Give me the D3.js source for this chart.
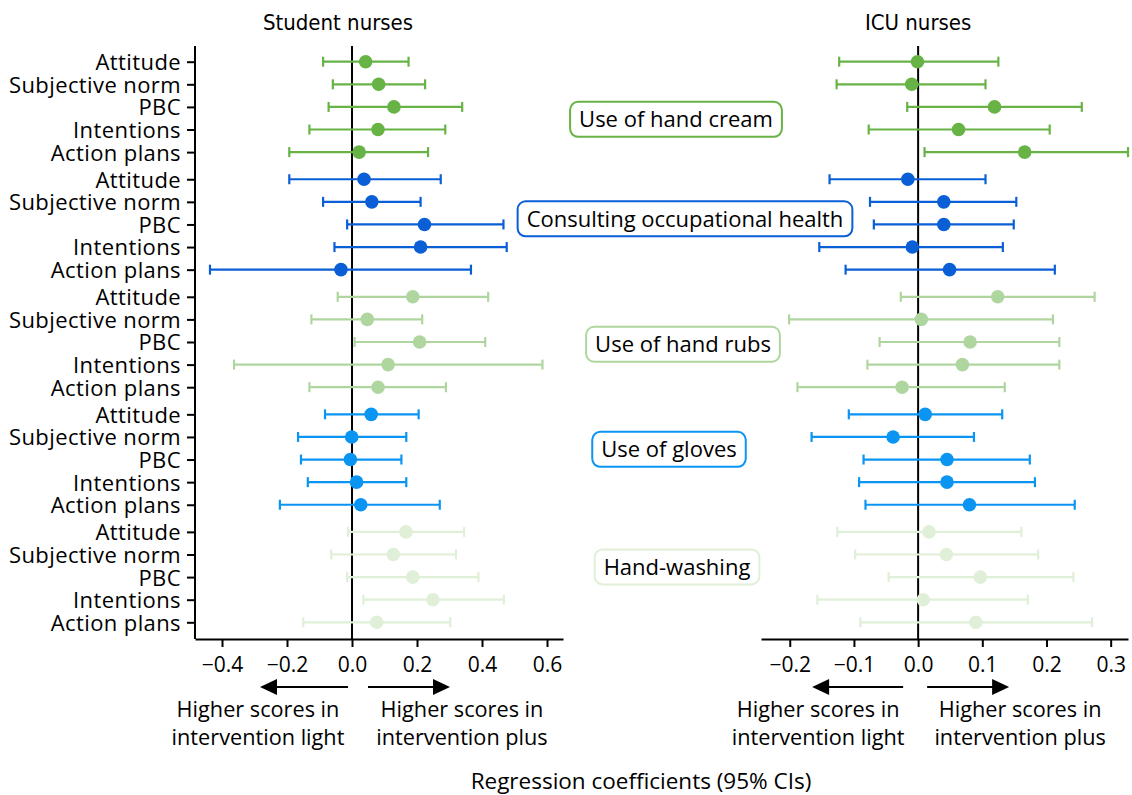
<!DOCTYPE html>
<html>
<head>
<meta charset="utf-8">
<script src="https://cdn.jsdelivr.net/npm/d3@7"></script>
<style>
  html, body { margin: 0; padding: 0; background: #ffffff; }
  svg { display: block; font-family: 'Open Sans', 'Noto Sans', sans-serif; }
  .narrow { font-family: 'Liberation Sans Narrow', 'DejaVu Sans Condensed', 'Open Sans', sans-serif; }
</style>
</head>
<body>
<div id="chart"></div>
<script>
// behaviours (groups) and the five constructs in each
const groups = ['Use of hand cream', 'Consulting occupational health', 'Use of hand rubs', 'Use of gloves', 'Hand-washing'];
const constructs = ['Attitude', 'Subjective norm', 'PBC', 'Intentions', 'Action plans'];
const groupColors = ['#67b346', '#0a5fd6', '#b0d6a0', '#0a95f3', '#e0f0d8'];

// Student nurses: estimate, lower CI, upper CI (rows grouped by behaviour)
const studentEst = [0.042, 0.082, 0.129, 0.080, 0.022,  0.037, 0.061, 0.223, 0.211, -0.034,  0.187, 0.047, 0.208, 0.111, 0.080,  0.059, -0.001, -0.005, 0.014, 0.027,  0.166, 0.127, 0.187, 0.249, 0.076];
const studentLo = [-0.089, -0.059, -0.072, -0.131, -0.193,  -0.193, -0.089, -0.015, -0.054, -0.437,  -0.044, -0.125, 0.008, -0.363, -0.131,  -0.083, -0.166, -0.157, -0.136, -0.222,  -0.012, -0.064, -0.015, 0.035, -0.150];
const studentHi = [0.174, 0.225, 0.339, 0.287, 0.234,  0.273, 0.211, 0.466, 0.476, 0.366,  0.419, 0.216, 0.410, 0.586, 0.289,  0.205, 0.167, 0.152, 0.167, 0.270,  0.345, 0.320, 0.389, 0.467, 0.302];

// ICU nurses
const icuEst = [-0.001, -0.010, 0.119, 0.063, 0.166,  -0.016, 0.040, 0.040, -0.009, 0.049,  0.124, 0.005, 0.081, 0.069, -0.025,  0.011, -0.039, 0.045, 0.045, 0.080,  0.017, 0.044, 0.097, 0.008, 0.090];
const icuLo = [-0.123, -0.127, -0.017, -0.077, 0.010,  -0.138, -0.075, -0.069, -0.154, -0.113,  -0.027, -0.201, -0.060, -0.079, -0.188,  -0.108, -0.166, -0.085, -0.092, -0.082,  -0.126, -0.098, -0.046, -0.157, -0.090];
const icuHi = [0.125, 0.105, 0.255, 0.205, 0.327,  0.105, 0.153, 0.149, 0.132, 0.213,  0.275, 0.210, 0.220, 0.220, 0.135,  0.131, 0.087, 0.174, 0.182, 0.244,  0.161, 0.187, 0.242, 0.171, 0.271];

const studentTicks = [-0.4, -0.2, 0, 0.2, 0.4, 0.6];
const icuTicks = [-0.2, -0.1, 0, 0.1, 0.2, 0.3];

const W = 1132, H = 795;
const groupGap = 0.2; // extra space between behaviour groups, in rows
const slot = (g, i) => g * (constructs.length + groupGap) + i;
const lastSlot = slot(groups.length - 1, constructs.length - 1);
const plotTop = 46, plotBottom = 639;
const y = d3.scaleLinear().domain([0, lastSlot]).range([61.7, 622.3]);

// label box position (in rows from the group's first row)
const boxRow = [2.55, 1.75, 2.1, 1.55, 1.55];
const boxCx = [676, 685, 683, 669, 677];

const svg = d3.select('#chart').append('svg').attr('width', W).attr('height', H);

const rows = [];
groups.forEach((g, gi) => constructs.forEach((c, ci) => rows.push({ g: gi, c: ci, s: slot(gi, ci) })));

const panels = [
  {
    title: 'Student nurses', titleDx: -14,
    x: d3.scaleLinear().domain([-0.4831, 0.6492]).range([195, 563]),
    ticks: studentTicks, est: studentEst, lo: studentLo, hi: studentHi, yAxis: true,
    arrows: { lTail: -4, lTip: -92, rTail: 16, rTip: 98, lText: -94, rText: 110 },
  },
  {
    title: 'ICU nurses', titleDx: 0,
    x: d3.scaleLinear().domain([-0.2448, 0.327]).range([761, 1128]),
    ticks: icuTicks, est: icuEst, lo: icuLo, hi: icuHi, yAxis: false,
    arrows: { lTail: -15, lTip: -106, rTail: 9, rTip: 91, lText: -100, rText: 102 },
  },
];

panels.forEach((p) => {
  const x = p.x;
  const x0 = x(0);
  const g = svg.append('g');

  // zero reference line
  g.append('line')
    .attr('x1', x0).attr('x2', x0).attr('y1', plotTop).attr('y2', plotBottom)
    .attr('stroke', '#000').attr('stroke-width', 2);

  // bottom axis
  const ax = g.append('g')
    .attr('transform', `translate(0,${plotBottom})`)
    .call(d3.axisBottom(x).tickValues(p.ticks).tickFormat(d3.format('.1f')).tickSize(8).tickSizeOuter(0).tickPadding(10));
  ax.select('.domain').attr('stroke-width', 2);
  ax.selectAll('.tick line').attr('stroke-width', 2);
  ax.selectAll('text').attr('font-size', 21).attr('font-family', "'Open Sans', sans-serif").attr('fill', '#000');

  if (p.yAxis) {
    const ay = g.append('g')
      .attr('transform', `translate(${x.range()[0]},0)`)
      .call(d3.axisLeft(y).tickValues(rows.map((r) => r.s)).tickFormat((d, i) => constructs[rows[i].c]).tickSize(8).tickSizeOuter(0).tickPadding(6));
    ay.select('.domain').attr('d', `M0,${plotTop}V${plotBottom}`).attr('stroke-width', 2);
    ay.selectAll('.tick line').attr('stroke-width', 2);
    ay.selectAll('text').attr('font-size', 22).attr('font-family', "'Open Sans', sans-serif").attr('fill', '#000').attr('letter-spacing', 0.4).attr('dy', '0.36em');
  }

  // error bars
  const bars = g.append('g').selectAll('g').data(rows).join('g')
    .attr('stroke', (d) => groupColors[d.g]).attr('stroke-width', 2.2);
  bars.append('line')
    .attr('x1', (d, i) => x(p.lo[i])).attr('x2', (d, i) => x(p.hi[i]))
    .attr('y1', (d) => y(d.s)).attr('y2', (d) => y(d.s));
  bars.append('line')
    .attr('x1', (d, i) => x(p.lo[i])).attr('x2', (d, i) => x(p.lo[i]))
    .attr('y1', (d) => y(d.s) - 5).attr('y2', (d) => y(d.s) + 5);
  bars.append('line')
    .attr('x1', (d, i) => x(p.hi[i])).attr('x2', (d, i) => x(p.hi[i]))
    .attr('y1', (d) => y(d.s) - 5).attr('y2', (d) => y(d.s) + 5);

  g.append('g').selectAll('circle').data(rows).join('circle')
    .attr('cx', (d, i) => x(p.est[i])).attr('cy', (d) => y(d.s)).attr('r', 6.8)
    .attr('fill', (d) => groupColors[d.g]);

  // title
  svg.append('text').attr('class', 'narrow')
    .attr('x', x0 + p.titleDx).attr('y', 30).attr('text-anchor', 'middle')
    .attr('font-size', 22).attr('fill', '#000').text(p.title);

  // direction arrows
  const ay0 = 687;
  const a = p.arrows;
  [[a.lTail, a.lTip], [a.rTail, a.rTip]].forEach(([t, h]) => {
    const dir = Math.sign(h - t);
    g.append('line')
      .attr('x1', x0 + t).attr('x2', x0 + h - dir * 14).attr('y1', ay0).attr('y2', ay0)
      .attr('stroke', '#000').attr('stroke-width', 2);
    g.append('path')
      .attr('d', `M${x0 + h},${ay0}L${x0 + h - dir * 17},${ay0 - 8}L${x0 + h - dir * 17},${ay0 + 8}Z`)
      .attr('fill', '#000');
  });
  [[a.lText, 'intervention light'], [a.rText, 'intervention plus']].forEach(([dx, line2]) => {
    const t = g.append('text').attr('text-anchor', 'middle').attr('font-size', 21.7).attr('fill', '#000');
    t.append('tspan').attr('x', x0 + dx).attr('y', 717).text('Higher scores in');
    t.append('tspan').attr('x', x0 + dx).attr('y', 745).text(line2);
  });
});

// behaviour labels in rounded boxes
groups.forEach((name, gi) => {
  const cy = y(slot(gi, boxRow[gi]));
  const bg = svg.append('g');
  const t = bg.append('text')
    .attr('x', boxCx[gi]).attr('y', cy).attr('dy', '0.36em')
    .attr('text-anchor', 'middle').attr('font-size', 22).attr('fill', '#000').text(name);
  const bb = t.node().getBBox();
  bg.insert('rect', 'text')
    .attr('x', bb.x - 9).attr('y', cy - 17.5).attr('width', bb.width + 18).attr('height', 35)
    .attr('rx', 8).attr('fill', '#fff').attr('stroke', groupColors[gi]).attr('stroke-width', 2);
});

svg.append('text')
  .attr('x', 641).attr('y', 789).attr('text-anchor', 'middle')
  .attr('font-size', 22.5).attr('fill', '#000').text('Regression coefficients (95% CIs)');
</script>
</body>
</html>
